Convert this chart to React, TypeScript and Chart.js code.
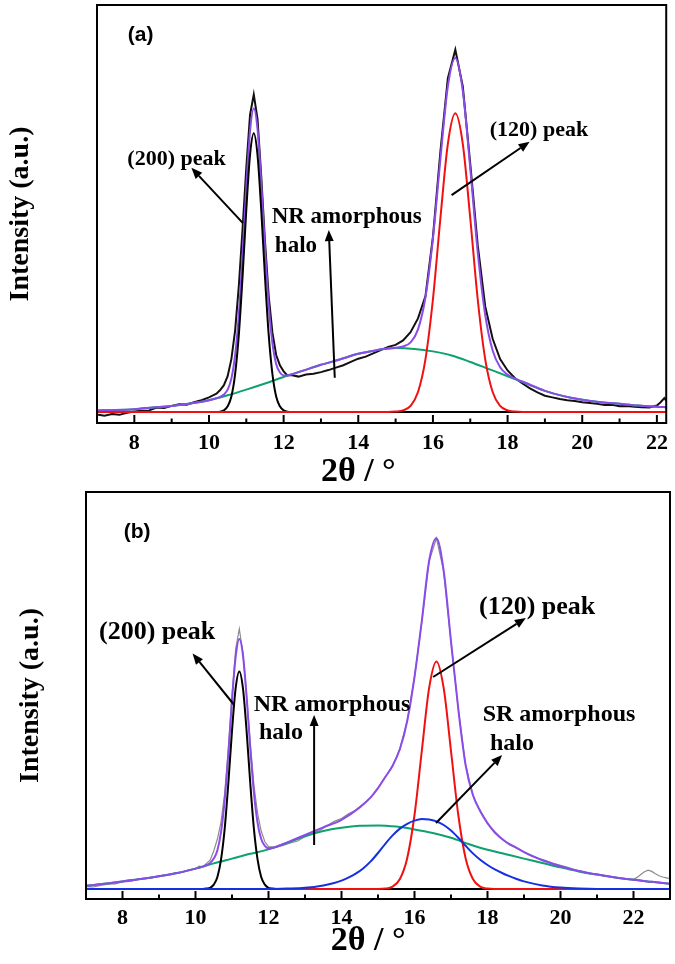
import { useEffect, useRef } from "react"
import { Chart, registerables } from "chart.js"

Chart.register(...registerables)

type Pt = [number, number]

const SERIF = "'Liberation Serif', 'Times New Roman', serif"
const SANS = "'Liberation Sans', Arial, sans-serif"

// x axis ticks (2θ, degrees)
const X_MAJOR_TICKS = [8, 10, 12, 14, 16, 18, 20, 22]
const X_MINOR_TICKS = [7, 9, 11, 13, 15, 17, 19, 21, 23]

// ---- panel (a): [2θ, intensity a.u.] ----
const A_MEASURED: Pt[] = [
  [7.0, -0.6], [7.2, -0.9], [7.4, -0.5], [7.6, -0.7], [7.8, -0.2], [8.0, 0.1], [8.2, 0.3], [8.4, 0.4],
  [8.6, 1.1], [8.8, 1.0], [9.0, 1.5], [9.2, 1.9], [9.4, 1.8], [9.6, 2.4], [9.8, 2.9], [10.0, 3.6],
  [10.2, 4.5], [10.3, 5.4], [10.4, 6.6], [10.5, 8.8], [10.6, 13.0], [10.7, 20.0], [10.8, 31.0], [10.9, 45.0],
  [11.0, 60.0], [11.1, 73.0], [11.2, 78.0], [11.3, 72.0], [11.4, 58.0], [11.5, 42.0], [11.6, 28.5], [11.7, 19.5],
  [11.8, 14.0], [11.9, 11.5], [12.0, 10.0], [12.1, 9.0], [12.2, 9.1], [12.4, 8.7], [12.6, 9.2], [12.8, 9.4],
  [13.0, 9.8], [13.2, 10.3], [13.4, 10.9], [13.6, 11.5], [13.8, 12.3], [14.0, 13.1], [14.2, 13.6], [14.4, 14.4],
  [14.6, 15.2], [14.8, 16.0], [15.0, 16.5], [15.2, 17.6], [15.4, 19.6], [15.6, 23.0], [15.8, 28.5], [16.0, 43.0],
  [16.2, 64.0], [16.4, 82.0], [16.6, 89.0], [16.8, 80.0], [17.0, 61.0], [17.2, 41.0], [17.4, 26.0], [17.6, 18.0],
  [17.8, 13.0], [18.0, 10.2], [18.2, 8.3], [18.4, 7.0], [18.6, 5.8], [18.8, 4.8], [19.0, 4.0], [19.2, 3.6],
  [19.4, 3.2], [19.6, 2.9], [19.8, 2.7], [20.0, 2.4], [20.2, 2.2], [20.4, 2.0], [20.6, 1.7], [20.8, 1.8],
  [21.0, 1.4], [21.2, 1.5], [21.4, 1.3], [21.6, 1.2], [21.8, 1.1], [22.0, 1.6], [22.1, 2.4], [22.2, 3.4], [22.25, 2.8],
]

const A_ENVELOPE: Pt[] = [
  [7.0, 0.4], [7.5, 0.5], [8.0, 0.7], [8.5, 1.1], [9.0, 1.5], [9.5, 2.1], [10.0, 2.9],
  [10.2, 3.4], [10.3, 3.7], [10.4, 4.3], [10.5, 5.5], [10.6, 8.2], [10.7, 14.0], [10.8, 23.9], [10.9, 38.5],
  [11.0, 55.2], [11.1, 69.0], [11.2, 74.6], [11.3, 69.6], [11.4, 56.4], [11.5, 40.3], [11.6, 26.3], [11.7, 16.9],
  [11.8, 11.8], [11.9, 9.7], [12.0, 9.0], [12.1, 9.0], [12.2, 9.2],
  [12.5, 10.1], [13.0, 11.6], [13.5, 12.9], [14.0, 14.3], [14.5, 15.2],
  [14.6, 15.4], [14.8, 15.6], [15.0, 15.8], [15.2, 16.1], [15.4, 17.1], [15.6, 20.3], [15.8, 28.2], [16.0, 42.6],
  [16.2, 62.1], [16.4, 80.0], [16.6, 87.0], [16.8, 78.9], [17.0, 59.9], [17.2, 39.3], [17.4, 23.9], [17.6, 15.1],
  [17.8, 11.0], [18.0, 9.2], [18.2, 8.2], [18.4, 7.5], [18.6, 6.7],
  [19.0, 5.2], [19.5, 3.9], [20.0, 3.0], [20.5, 2.4], [21.0, 2.0], [21.5, 1.6], [22.0, 1.3], [22.25, 1.2],
]

const A_NR_HALO: Pt[] = [
  [7.0, 0.4], [7.5, 0.5], [8.0, 0.7], [8.5, 1.1], [9.0, 1.5], [9.5, 2.1], [10.0, 2.9], [10.5, 4.1],
  [11.0, 5.5], [11.5, 7.0], [12.0, 8.6], [12.5, 10.1], [13.0, 11.6], [13.5, 12.9], [14.0, 14.3], [14.5, 15.2],
  [15.0, 15.7], [15.5, 15.5], [16.0, 14.9], [16.5, 13.9], [17.0, 12.3], [17.5, 10.55], [18.0, 8.8], [18.5, 7.0],
  [19.0, 5.2], [19.5, 3.9], [20.0, 3.0], [20.5, 2.4], [21.0, 2.0], [21.5, 1.6], [22.0, 1.3], [22.25, 1.2],
]

const A_PEAK_200: Pt[] = [
  [7.0, 0], [10.2, 0], [10.3, 0.1], [10.4, 0.4], [10.5, 1.4], [10.6, 3.8], [10.7, 9.3], [10.8, 19.0],
  [10.9, 33.3], [11.0, 49.7], [11.1, 63.2], [11.2, 68.5], [11.3, 63.2], [11.4, 49.7], [11.5, 33.3], [11.6, 19.0],
  [11.7, 9.3], [11.8, 3.8], [11.9, 1.4], [12.0, 0.4], [12.1, 0.1], [12.2, 0], [22.25, 0],
]

const A_PEAK_120: Pt[] = [
  [7.0, 0], [14.6, 0], [14.8, 0], [15.0, 0.1], [15.2, 0.4], [15.4, 1.5], [15.6, 4.9], [15.8, 13.0],
  [16.0, 27.7], [16.2, 47.6], [16.4, 65.9], [16.6, 73.4], [16.8, 65.9], [17.0, 47.6], [17.2, 27.7], [17.4, 13.0],
  [17.6, 4.9], [17.8, 1.5], [18.0, 0.4], [18.2, 0.1], [18.4, 0], [22.25, 0],
]

// ---- panel (b) ----
const B_MEASURED: Pt[] = [
  [7.0, 0.6], [7.2, 0.5], [7.4, 0.9], [7.6, 1.2], [7.8, 1.3], [8.0, 1.8], [8.2, 1.9], [8.4, 2.4],
  [8.6, 2.6], [8.8, 2.8], [9.0, 3.3], [9.2, 3.5], [9.4, 3.9], [9.6, 4.1], [9.8, 4.7], [10.0, 5.0],
  [10.1, 5.7], [10.2, 5.6], [10.3, 6.4], [10.4, 7.2], [10.5, 9.5], [10.6, 12.5], [10.7, 16.8], [10.8, 24.0],
  [10.9, 35.0], [11.0, 48.5], [11.1, 60.0], [11.2, 65.0], [11.3, 59.0], [11.4, 48.5], [11.5, 36.5], [11.6, 26.0],
  [11.7, 19.0], [11.8, 14.5], [11.9, 11.8], [12.0, 10.6], [12.2, 10.4], [12.4, 10.9], [12.6, 11.5], [12.8, 12.0],
  [13.0, 13.1], [13.2, 13.9], [13.4, 14.6], [13.6, 15.8], [13.8, 16.9], [14.0, 17.6], [14.2, 18.9], [14.4, 19.7],
  [14.6, 21.3], [14.8, 22.9], [15.0, 25.3], [15.2, 28.0], [15.4, 30.8], [15.6, 35.0], [15.8, 42.0], [16.0, 53.0],
  [16.2, 66.8], [16.4, 81.9], [16.6, 87.7], [16.8, 79.4], [17.0, 61.8], [17.2, 45.0], [17.4, 31.0], [17.6, 23.5],
  [17.8, 19.3], [18.0, 16.3], [18.2, 14.0], [18.4, 12.4], [18.6, 11.0], [18.8, 10.2], [19.0, 9.3], [19.2, 8.5],
  [19.4, 7.7], [19.6, 7.1], [19.8, 6.4], [20.0, 5.9], [20.2, 5.4], [20.4, 4.8], [20.6, 4.4], [20.8, 4.0],
  [21.0, 3.7], [21.2, 3.3], [21.4, 3.0], [21.6, 2.8], [21.8, 2.5], [22.0, 2.4], [22.1, 2.9], [22.2, 3.6],
  [22.3, 4.3], [22.4, 4.7], [22.5, 4.4], [22.6, 3.8], [22.7, 3.3], [22.8, 3.0], [22.9, 2.8], [23.0, 2.6],
]

const B_ENVELOPE: Pt[] = [
  [7.0, 0.8], [7.5, 1.3], [8.0, 1.9], [8.5, 2.5], [9.0, 3.2], [9.5, 4.0], [10.0, 5.1],
  [10.2, 5.6], [10.3, 6.0], [10.4, 6.5], [10.5, 7.6], [10.6, 9.7], [10.7, 14.3], [10.8, 22.3], [10.9, 33.9],
  [11.0, 47.1], [11.1, 58.0], [11.2, 62.5], [11.3, 58.5], [11.4, 48.1], [11.5, 35.3], [11.6, 24.1], [11.7, 16.6],
  [11.8, 12.5], [11.9, 10.8], [12.0, 10.2], [12.1, 10.3], [12.2, 10.5],
  [12.5, 11.6], [13.0, 13.5], [13.5, 15.4], [14.0, 17.3], [14.5, 20.4], [14.8, 22.9],
  [15.0, 25.2], [15.2, 28.0], [15.4, 30.8], [15.6, 35.0], [15.8, 42.0], [16.0, 53.0], [16.2, 67.0], [16.4, 82.0],
  [16.6, 87.7], [16.8, 79.5], [17.0, 61.9], [17.2, 45.0], [17.4, 31.0], [17.6, 23.5], [17.8, 19.5], [18.0, 16.5],
  [18.2, 14.2], [18.5, 11.8], [18.8, 10.3], [19.0, 9.2], [19.5, 7.2], [20.0, 5.7], [20.5, 4.5], [21.0, 3.6],
  [21.5, 2.9], [22.0, 2.3], [22.5, 1.8], [23.0, 1.3],
]

const B_NR_HALO: Pt[] = [
  [7.0, 0.8], [7.5, 1.3], [8.0, 1.9], [8.5, 2.5], [9.0, 3.2], [9.5, 4.0], [10.0, 5.1], [10.5, 6.4],
  [11.0, 7.6], [11.5, 8.8], [12.0, 9.9], [12.5, 11.5], [13.0, 13.2], [13.5, 14.5], [14.0, 15.3], [14.5, 15.8],
  [15.0, 15.9], [15.5, 15.6], [16.0, 14.9], [16.5, 14.0], [17.0, 12.8], [17.5, 11.2], [18.0, 9.8], [18.5, 8.7],
  [19.0, 7.6], [19.5, 6.5], [20.0, 5.4], [20.5, 4.4], [21.0, 3.6], [21.5, 2.9], [22.0, 2.3], [22.5, 1.8], [23.0, 1.3],
]

const B_SR_HALO: Pt[] = [
  [7.0, 0], [12.0, 0], [12.5, 0.1], [13.0, 0.3], [13.5, 0.9], [13.8, 1.5], [14.0, 2.1], [14.2, 2.9],
  [14.4, 3.9], [14.6, 5.2], [14.8, 6.9], [15.0, 9.0], [15.2, 11.3], [15.4, 13.4], [15.6, 15.1], [15.8, 16.3],
  [16.0, 17.1], [16.2, 17.5], [16.4, 17.4], [16.6, 16.9], [16.8, 16.0], [17.0, 14.6], [17.2, 12.8], [17.4, 10.8],
  [17.6, 8.9], [17.8, 7.3], [18.0, 6.0], [18.2, 4.9], [18.4, 4.0], [18.6, 3.2], [18.8, 2.5], [19.0, 1.9],
  [19.5, 0.9], [20.0, 0.35], [20.5, 0.1], [21.0, 0], [23.0, 0],
]

const B_PEAK_200: Pt[] = [
  [7.0, 0], [10.2, 0], [10.3, 0.1], [10.4, 0.3], [10.5, 1.1], [10.6, 3.0], [10.7, 7.4], [10.8, 15.1],
  [10.9, 26.5], [11.0, 39.5], [11.1, 50.2], [11.2, 54.4], [11.3, 50.2], [11.4, 39.5], [11.5, 26.5], [11.6, 15.1],
  [11.7, 7.4], [11.8, 3.0], [11.9, 1.1], [12.0, 0.3], [12.1, 0.1], [12.2, 0], [23.0, 0],
]

const B_PEAK_120: Pt[] = [
  [7.0, 0], [15.0, 0], [15.2, 0.1], [15.4, 0.6], [15.6, 2.5], [15.8, 7.7], [16.0, 18.5], [16.2, 34.5],
  [16.4, 50.2], [16.6, 56.9], [16.8, 50.2], [17.0, 34.5], [17.2, 18.5], [17.4, 7.7], [17.6, 2.5], [17.8, 0.6],
  [18.0, 0.1], [18.2, 0], [23.0, 0],
]

// annotations, in data coordinates
type Note = { text: string; at: Pt; size: number }
type Arrow = { from: Pt; to: Pt }

const A_NOTES: Note[] = [
  { text: "(200) peak", at: [9.13, 62.2], size: 22 },
  { text: "NR amorphous", at: [13.69, 47.9], size: 23 },
  { text: "halo", at: [12.33, 40.8], size: 23 },
  { text: "(120) peak", at: [18.84, 69.3], size: 22 },
]
const A_ARROWS: Arrow[] = [
  { from: [10.91, 46.4], to: [9.53, 60.0] },
  { from: [13.37, 8.4], to: [13.21, 44.7] },
  { from: [16.5, 53.3], to: [18.59, 66.4] },
]

const B_NOTES: Note[] = [
  { text: "(200) peak", at: [8.95, 64.25], size: 26 },
  { text: "NR amorphous", at: [13.74, 46], size: 24 },
  { text: "halo", at: [12.34, 39], size: 24 },
  { text: "(120) peak", at: [19.36, 70.5], size: 26 },
  { text: "SR amorphous", at: [19.96, 43.5], size: 24 },
  { text: "halo", at: [18.67, 36.25], size: 24 },
]
const B_ARROWS: Arrow[] = [
  { from: [11.06, 46], to: [9.92, 58.9] },
  { from: [13.25, 11], to: [13.25, 43.5] },
  { from: [16.51, 53], to: [19.05, 67.75] },
  { from: [16.59, 16.5], to: [18.4, 33.5] },
]

const BLACK = "#000000"
const PURPLE = "#8a4be8"
const GREEN = "#0fa070"
const RED = "#f01010"
const BLUE = "#1530e0"
const GRAY = "#8c8c8c"

type Series = { data: Pt[]; color: string; width: number; smooth: boolean }

type PanelProps = {
  top: number
  height: number
  xMax: number
  yMin: number
  yMax: number
  area: { left: number; right: number; top: number; bottom: number }
  yTitleInset: number
  tickPad: number
  captionAt: number
  captionDrop: number
  tag: string
  tagAt: Pt
  series: Series[] // first one is drawn on top
  notes: Note[]
  arrows: Arrow[]
}

function drawArrow(ctx: CanvasRenderingContext2D, x1: number, y1: number, x2: number, y2: number) {
  const ang = Math.atan2(y2 - y1, x2 - x1)
  const head = 11
  const half = 4.5
  const bx = x2 - head * Math.cos(ang)
  const by = y2 - head * Math.sin(ang)
  ctx.beginPath()
  ctx.moveTo(x1, y1)
  ctx.lineTo(bx, by)
  ctx.stroke()
  ctx.beginPath()
  ctx.moveTo(x2, y2)
  ctx.lineTo(bx + half * Math.sin(ang), by - half * Math.cos(ang))
  ctx.lineTo(bx - half * Math.sin(ang), by + half * Math.cos(ang))
  ctx.closePath()
  ctx.fill()
}

function Panel(p: PanelProps) {
  const canvasRef = useRef<HTMLCanvasElement>(null)

  useEffect(() => {
    if (!canvasRef.current) return
    const ctx = canvasRef.current.getContext("2d")
    if (!ctx) return

    // frame, inward ticks, caption and annotations
    const decorations = {
      id: "decorations",
      afterDraw(chart: Chart) {
        const c = chart.ctx
        const { left, right, top, bottom } = chart.chartArea
        const xs = chart.scales.x
        const ys = chart.scales.y
        c.save()
        c.strokeStyle = BLACK
        c.fillStyle = BLACK
        c.lineWidth = 2
        c.strokeRect(left, top, right - left, bottom - top)

        const tick = (v: number, len: number) => {
          const px = xs.getPixelForValue(v)
          if (px <= left + 1 || px >= right - 1) return
          c.beginPath()
          c.moveTo(px, bottom)
          c.lineTo(px, bottom - len)
          c.stroke()
        }
        X_MAJOR_TICKS.forEach((v) => tick(v, 8))
        X_MINOR_TICKS.forEach((v) => tick(v, 4.5))

        c.textAlign = "center"
        c.textBaseline = "middle"
        c.font = `bold 34px ${SERIF}`
        c.fillText("2θ / °", xs.getPixelForValue(p.captionAt), bottom + p.captionDrop)

        c.font = `bold 21px ${SANS}`
        c.fillText(p.tag, xs.getPixelForValue(p.tagAt[0]), ys.getPixelForValue(p.tagAt[1]))

        p.notes.forEach((n) => {
          c.font = `bold ${n.size}px ${SERIF}`
          c.fillText(n.text, xs.getPixelForValue(n.at[0]), ys.getPixelForValue(n.at[1]))
        })

        c.lineWidth = 2
        p.arrows.forEach((a) => {
          drawArrow(
            c,
            xs.getPixelForValue(a.from[0]),
            ys.getPixelForValue(a.from[1]),
            xs.getPixelForValue(a.to[0]),
            ys.getPixelForValue(a.to[1]),
          )
        })
        c.restore()
      },
    }

    const chart = new Chart(ctx, {
      type: "line",
      data: {
        datasets: p.series.map((s) => ({
          data: s.data.map(([x, y]) => ({ x, y })),
          borderColor: s.color,
          borderWidth: s.width,
          pointRadius: 0,
          fill: false,
          tension: 0,
          cubicInterpolationMode: s.smooth ? "monotone" : "default",
        })),
      },
      options: {
        responsive: false,
        animation: false,
        layout: {
          padding: { left: 0, top: p.area.top, right: 675 - p.area.right, bottom: 0 },
        },
        plugins: {
          legend: { display: false },
          tooltip: { enabled: false },
        },
        scales: {
          x: {
            type: "linear",
            min: 7,
            max: p.xMax,
            grid: { display: false, drawTicks: false },
            border: { display: false },
            afterBuildTicks: (axis: any) => {
              axis.ticks = X_MAJOR_TICKS.map((value) => ({ value }))
            },
            afterFit: (axis: any) => {
              axis.height = p.height - p.area.bottom
            },
            ticks: {
              color: BLACK,
              font: { family: SERIF, weight: "bold", size: 22 },
              padding: p.tickPad,
              maxRotation: 0,
              autoSkip: false,
            },
          },
          y: {
            type: "linear",
            min: p.yMin,
            max: p.yMax,
            grid: { display: false, drawTicks: false },
            border: { display: false },
            ticks: { display: false },
            afterFit: (axis: any) => {
              axis.width = p.area.left
            },
            title: {
              display: true,
              text: "Intensity (a.u.)",
              color: BLACK,
              font: { family: SERIF, weight: "bold", size: 28 },
              padding: { top: p.yTitleInset, bottom: 0 },
            },
          },
        },
      },
      plugins: [decorations],
    })

    return () => {
      chart.destroy()
    }
  }, [])

  return (
    <canvas
      ref={canvasRef}
      width={675}
      height={p.height}
      style={{ position: "absolute", left: 0, top: p.top, width: 675, height: p.height }}
    />
  )
}

export default function App() {
  return (
    <div style={{ position: "absolute", left: 0, top: 0, width: 675, height: 964, background: "#fff" }}>
      <Panel
        top={0}
        height={490}
        xMax={22.25}
        yMin={-2.7}
        yMax={100}
        area={{ left: 97, right: 668, top: 5, bottom: 423 }}
        yTitleInset={4}
        tickPad={7}
        captionAt={14.0}
        captionDrop={49}
        tag="(a)"
        tagAt={[8.17, 92.6]}
        series={[
          { data: A_PEAK_120, color: RED, width: 2, smooth: true },
          { data: A_PEAK_200, color: BLACK, width: 2, smooth: true },
          { data: A_ENVELOPE, color: PURPLE, width: 2, smooth: true },
          { data: A_NR_HALO, color: GREEN, width: 2, smooth: true },
          { data: A_MEASURED, color: "#111111", width: 2, smooth: false },
        ]}
        notes={A_NOTES}
        arrows={A_ARROWS}
      />
      <Panel
        top={482}
        height={482}
        xMax={23}
        yMin={-2.5}
        yMax={99.25}
        area={{ left: 86, right: 670, top: 10, bottom: 417 }}
        yTitleInset={14}
        tickPad={6}
        captionAt={14.73}
        captionDrop={42}
        tag="(b)"
        tagAt={[8.4, 89.25]}
        series={[
          { data: B_SR_HALO, color: BLUE, width: 2, smooth: true },
          { data: B_PEAK_120, color: RED, width: 2, smooth: true },
          { data: B_PEAK_200, color: BLACK, width: 2, smooth: true },
          { data: B_ENVELOPE, color: PURPLE, width: 2, smooth: true },
          { data: B_NR_HALO, color: GREEN, width: 2, smooth: true },
          { data: B_MEASURED, color: GRAY, width: 1.2, smooth: false },
        ]}
        notes={B_NOTES}
        arrows={B_ARROWS}
      />
    </div>
  )
}
